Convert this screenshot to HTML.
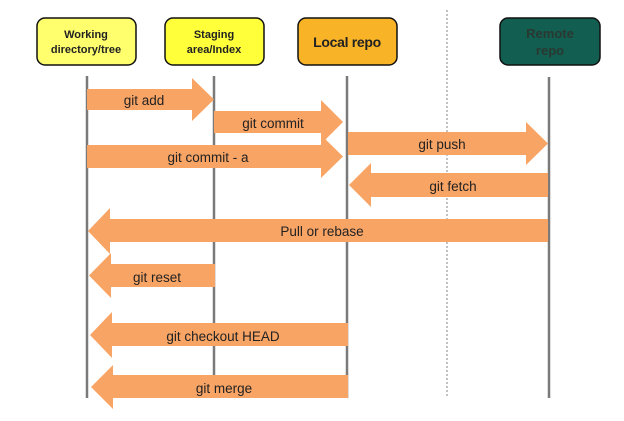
<!DOCTYPE html>
<html><head><meta charset="utf-8"><style>
html,body{margin:0;padding:0;background:#fff;}
svg{display:block;}
text{font-family:"Liberation Sans",Arial,sans-serif;}
</style></head><body>
<svg width="624" height="421" viewBox="0 0 624 421" xmlns="http://www.w3.org/2000/svg">
<line x1="447" y1="10" x2="447" y2="398" stroke="#999" stroke-width="1.2" stroke-dasharray="2,2"/>
<g stroke="#7a7a7a" stroke-width="2.5">
<line x1="87" y1="76" x2="87" y2="398"/>
<line x1="214" y1="76" x2="214" y2="398"/>
<line x1="347" y1="76" x2="347" y2="398"/>
<line x1="549" y1="77" x2="549" y2="398"/>
</g>
<g stroke="#111" stroke-width="1.5">
<rect x="37" y="18" width="99" height="47" rx="8" fill="#FFFF6E"/>
<rect x="165" y="18" width="99" height="47" rx="8" fill="#FFFF3A"/>
<rect x="298" y="18" width="99" height="47" rx="8" fill="#F9B326"/>
<rect x="500" y="18" width="100" height="47" rx="8" fill="#125E50"/>
</g>
<g font-weight="bold" text-anchor="middle" fill="#222">
<text x="86" y="38" font-size="11">Working</text>
<text x="86" y="53" font-size="11">directory/tree</text>
<text x="214" y="38" font-size="11">Staging</text>
<text x="214" y="53" font-size="11">area/Index</text>
<text x="347" y="47" font-size="14" letter-spacing="-0.3">Local repo</text>
<text x="550" y="38" font-size="13" fill="#2a3832">Remote</text>
<text x="550" y="55" font-size="13" fill="#2a3832">repo</text>
</g>
<g fill="#F8A465">
<polygon points="87,89 192,89 192,78 214,99.5 192,121 192,110 87,110"/>
<polygon points="214,111 321,111 321,100 343,122 321,144 321,133 214,133"/>
<polygon points="87,145 321,145 321,135 343,156.5 321,178 321,168 87,168"/>
<polygon points="348,132 526,132 526,122 548,143.5 526,165 526,155 348,155"/>
<polygon points="548,173 371,173 371,163 349,185 371,207 371,197 548,197"/>
<polygon points="548,219 110,219 110,208 88,231 110,254 110,242 548,242"/>
<polygon points="215,264 111,264 111,253 89,275.5 111,298 111,287 215,287"/>
<polygon points="348,323 112,323 112,312 90,335 112,358 112,346 348,346"/>
<polygon points="348,375 113,375 113,365 91,387 113,409 113,398 348,398"/>
</g>
<g font-size="13.5" text-anchor="middle" fill="#222">
<text x="144" y="105">git add</text>
<text x="273" y="128">git commit</text>
<text x="208" y="162">git commit  - a</text>
<text x="442" y="149">git push</text>
<text x="453" y="191">git fetch</text>
<text x="322" y="236">Pull or rebase</text>
<text x="157" y="282">git reset</text>
<text x="223" y="341">git checkout HEAD</text>
<text x="224" y="393">git merge</text>
</g>
</svg>
</body></html>
